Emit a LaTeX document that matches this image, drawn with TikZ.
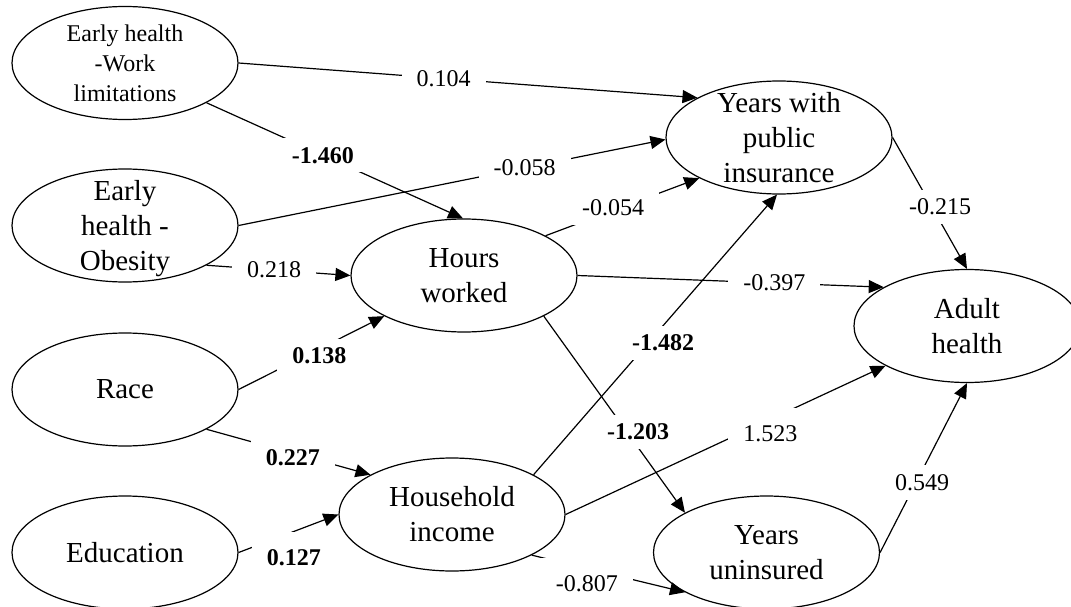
\documentclass[tikz,border=0pt]{standalone}
\usepackage{fontspec}
\setmainfont{Liberation Serif}
\usetikzlibrary{arrows.meta,shapes.geometric}
\begin{document}
\begin{tikzpicture}[x=1pt,y=-1pt,
  ell/.style={draw, ellipse, line width=1.2pt, minimum width=226pt, minimum height=113pt, inner sep=0pt},
  ntext/.style={align=center, font=\fontsize{29}{35}\selectfont, inner sep=0pt},
  stext/.style={align=center, font=\fontsize{24}{30}\selectfont, inner sep=0pt},
  conn/.style={line width=1.2pt, -{Triangle[length=15pt,width=13pt]}},
  lab/.style={fill=white, inner xsep=15pt, inner ysep=9pt, font=\fontsize{24}{28}\selectfont},
  blab/.style={lab, font=\fontsize{24}{28}\selectfont\bfseries},
  low/.style={text height=24pt}
]
\useasboundingbox (0,0) rectangle (1071,607);
\fill[white] (0,0) rectangle (1071,607);

% ellipses
\node[ell] (ewl) at (125,63) {};
\node[stext] (ewlt) at (ewl.center) {Early health\\-Work\\limitations};
\node[ell] (eho) at (125,225.5) {};
\node[ntext] (ehot) at ([yshift=-3pt]eho.center) {Early\\health -\\Obesity};
\node[ell] (race) at (125,389.5) {};
\node[ntext] (racet) at (race.center) {Race};
\node[ell] (edu) at (125,552.5) {};
\node[ntext] (edut) at (edu.center) {Education};
\node[ell] (hours) at (464,275.5) {};
\node[ntext] (hourst) at (hours.center) {Hours\\worked};
\node[ell] (hi) at (452,514.5) {};
\node[ntext] (hit) at (hi.center) {Household\\income};
\node[ell] (ypi) at (779,137.5) {};
\node[ntext] (ypit) at (ypi.center) {Years with\\public\\insurance};
\node[ell] (adult) at (967,326) {};
\node[ntext] (adultt) at (adult.center) {Adult\\health};
\node[ell] (yu) at (766.5,552.5) {};
\node[ntext] (yut) at (yu.center) {Years\\uninsured};

% connectors
\draw[conn] (ewl.0) -- node[lab, pos=0.447] (l1) {0.104} (ypi.154);
\draw[conn] (ewl.-26) -- node[blab, pos=0.454] (l2) {-1.460} (hours.91);
\draw[conn] (eho.0) -- node[lab, pos=0.67] (l3) {-0.058} (ypi.181);
\draw[conn] (eho.-26) -- node[lab, pos=0.47] (l4) {0.218} (hours.180);
\draw[conn] (hours.26) -- node[lab, pos=0.44, yshift=3pt] (l5) {-0.054} (ypi.-153);
\draw[conn] (hours.0) -- node[lab, pos=0.643] (l6) {-0.397} (adult.155);
\draw[conn] (ypi.0) -- node[lab, pos=0.53, xshift=8pt] (l7) {-0.215} (adult.90);
\draw[conn] (race.0) -- node[blab, pos=0.555, yshift=-7pt] (l8) {0.138} (hours.-153);
\draw[conn] (race.-26) -- node[blab, pos=0.527, yshift=-4pt] (l9) {0.227} (hi.154);
\draw[conn] (edu.0) -- node[blab, low, pos=0.554, yshift=-22pt] (l10) {0.127} (hi.180);
\draw[conn] (hi.26) -- node[blab, pos=0.471, xshift=15pt] (l11) {-1.482} (ypi.-92);
\draw[conn] (hours.-27) -- node[blab, pos=0.59, xshift=11pt] (l12) {-1.203} (yu.154);
\draw[conn] (hi.0) -- node[lab, low, pos=0.64, yshift=-10pt] (l13) {1.523} (adult.-154);
\draw[conn] (hi.-27) -- node[lab, low, pos=0.36, yshift=-11pt] (l14) {-0.807} (yu.-154);
\draw[conn] (yu.0) -- node[lab, pos=0.414, xshift=6pt] (l15) {0.549} (adult.-90);
\end{tikzpicture}
\end{document}
